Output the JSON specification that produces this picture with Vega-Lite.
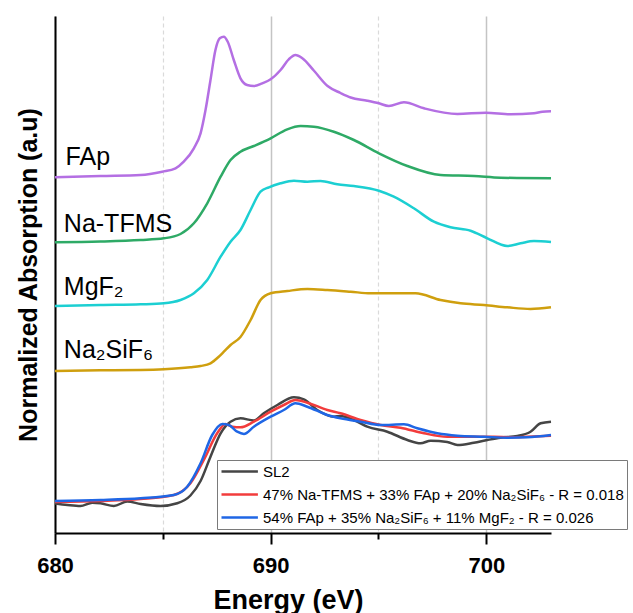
{
  "$schema": "https://vega.github.io/schema/vega-lite/v6.json",
  "width": 496,
  "height": 517,
  "autosize": {"type": "none"},
  "padding": {"left": 55, "top": 16, "right": 82, "bottom": 80},
  "background": "white",
  "config": {
    "font": "Liberation Sans",
    "view": {"stroke": null}
  },
  "datasets": {
    "curves": [
      {"s": "FAp", "E": 680.00, "A": 3.557},
      {"s": "FAp", "E": 682.11, "A": 3.570},
      {"s": "FAp", "E": 683.97, "A": 3.580},
      {"s": "FAp", "E": 684.97, "A": 3.613},
      {"s": "FAp", "E": 685.59, "A": 3.647},
      {"s": "FAp", "E": 685.97, "A": 3.713},
      {"s": "FAp", "E": 686.44, "A": 3.847},
      {"s": "FAp", "E": 686.75, "A": 3.997},
      {"s": "FAp", "E": 686.98, "A": 4.230},
      {"s": "FAp", "E": 687.21, "A": 4.530},
      {"s": "FAp", "E": 687.44, "A": 4.830},
      {"s": "FAp", "E": 687.64, "A": 4.947},
      {"s": "FAp", "E": 687.83, "A": 4.963},
      {"s": "FAp", "E": 688.01, "A": 4.913},
      {"s": "FAp", "E": 688.29, "A": 4.730},
      {"s": "FAp", "E": 688.60, "A": 4.547},
      {"s": "FAp", "E": 688.91, "A": 4.480},
      {"s": "FAp", "E": 689.22, "A": 4.470},
      {"s": "FAp", "E": 689.61, "A": 4.497},
      {"s": "FAp", "E": 690.00, "A": 4.537},
      {"s": "FAp", "E": 690.46, "A": 4.630},
      {"s": "FAp", "E": 690.84, "A": 4.737},
      {"s": "FAp", "E": 691.15, "A": 4.780},
      {"s": "FAp", "E": 691.47, "A": 4.747},
      {"s": "FAp", "E": 692.00, "A": 4.625},
      {"s": "FAp", "E": 692.64, "A": 4.470},
      {"s": "FAp", "E": 693.24, "A": 4.400},
      {"s": "FAp", "E": 693.71, "A": 4.355},
      {"s": "FAp", "E": 694.48, "A": 4.323},
      {"s": "FAp", "E": 695.02, "A": 4.297},
      {"s": "FAp", "E": 695.48, "A": 4.270},
      {"s": "FAp", "E": 696.18, "A": 4.307},
      {"s": "FAp", "E": 697.11, "A": 4.247},
      {"s": "FAp", "E": 698.66, "A": 4.190},
      {"s": "FAp", "E": 699.97, "A": 4.203},
      {"s": "FAp", "E": 701.13, "A": 4.187},
      {"s": "FAp", "E": 702.21, "A": 4.197},
      {"s": "FAp", "E": 702.60, "A": 4.213},
      {"s": "FAp", "E": 703.00, "A": 4.217},

      {"s": "Na-TFMS", "E": 680.00, "A": 2.907},
      {"s": "Na-TFMS", "E": 682.11, "A": 2.915},
      {"s": "Na-TFMS", "E": 683.97, "A": 2.930},
      {"s": "Na-TFMS", "E": 685.05, "A": 2.947},
      {"s": "Na-TFMS", "E": 685.82, "A": 2.990},
      {"s": "Na-TFMS", "E": 686.44, "A": 3.097},
      {"s": "Na-TFMS", "E": 687.06, "A": 3.297},
      {"s": "Na-TFMS", "E": 687.68, "A": 3.563},
      {"s": "Na-TFMS", "E": 688.14, "A": 3.730},
      {"s": "Na-TFMS", "E": 688.60, "A": 3.813},
      {"s": "Na-TFMS", "E": 689.22, "A": 3.870},
      {"s": "Na-TFMS", "E": 690.00, "A": 3.947},
      {"s": "Na-TFMS", "E": 690.77, "A": 4.037},
      {"s": "Na-TFMS", "E": 691.39, "A": 4.070},
      {"s": "Na-TFMS", "E": 692.00, "A": 4.063},
      {"s": "Na-TFMS", "E": 692.93, "A": 4.013},
      {"s": "Na-TFMS", "E": 693.86, "A": 3.930},
      {"s": "Na-TFMS", "E": 695.02, "A": 3.797},
      {"s": "Na-TFMS", "E": 696.34, "A": 3.670},
      {"s": "Na-TFMS", "E": 697.88, "A": 3.580},
      {"s": "Na-TFMS", "E": 699.43, "A": 3.570},
      {"s": "Na-TFMS", "E": 700.66, "A": 3.553},
      {"s": "Na-TFMS", "E": 703.00, "A": 3.547},

      {"s": "MgF\u2082", "E": 680.00, "A": 2.270},
      {"s": "MgF\u2082", "E": 682.11, "A": 2.280},
      {"s": "MgF\u2082", "E": 683.97, "A": 2.287},
      {"s": "MgF\u2082", "E": 685.05, "A": 2.297},
      {"s": "MgF\u2082", "E": 685.82, "A": 2.330},
      {"s": "MgF\u2082", "E": 686.44, "A": 2.397},
      {"s": "MgF\u2082", "E": 687.06, "A": 2.530},
      {"s": "MgF\u2082", "E": 687.68, "A": 2.763},
      {"s": "MgF\u2082", "E": 688.14, "A": 2.913},
      {"s": "MgF\u2082", "E": 688.60, "A": 3.030},
      {"s": "MgF\u2082", "E": 689.07, "A": 3.230},
      {"s": "MgF\u2082", "E": 689.53, "A": 3.413},
      {"s": "MgF\u2082", "E": 689.92, "A": 3.457},
      {"s": "MgF\u2082", "E": 690.46, "A": 3.497},
      {"s": "MgF\u2082", "E": 691.08, "A": 3.523},
      {"s": "MgF\u2082", "E": 691.70, "A": 3.513},
      {"s": "MgF\u2082", "E": 692.31, "A": 3.520},
      {"s": "MgF\u2082", "E": 693.09, "A": 3.487},
      {"s": "MgF\u2082", "E": 693.86, "A": 3.470},
      {"s": "MgF\u2082", "E": 695.02, "A": 3.423},
      {"s": "MgF\u2082", "E": 695.71, "A": 3.363},
      {"s": "MgF\u2082", "E": 696.64, "A": 3.247},
      {"s": "MgF\u2082", "E": 697.57, "A": 3.113},
      {"s": "MgF\u2082", "E": 698.34, "A": 3.057},
      {"s": "MgF\u2082", "E": 699.27, "A": 3.023},
      {"s": "MgF\u2082", "E": 700.05, "A": 2.947},
      {"s": "MgF\u2082", "E": 700.97, "A": 2.870},
      {"s": "MgF\u2082", "E": 701.59, "A": 2.897},
      {"s": "MgF\u2082", "E": 702.21, "A": 2.920},
      {"s": "MgF\u2082", "E": 703.00, "A": 2.910},

      {"s": "Na\u2082SiF\u2086", "E": 680.00, "A": 1.620},
      {"s": "Na\u2082SiF\u2086", "E": 682.11, "A": 1.627},
      {"s": "Na\u2082SiF\u2086", "E": 683.97, "A": 1.630},
      {"s": "Na\u2082SiF\u2086", "E": 685.05, "A": 1.637},
      {"s": "Na\u2082SiF\u2086", "E": 686.28, "A": 1.657},
      {"s": "Na\u2082SiF\u2086", "E": 686.75, "A": 1.670},
      {"s": "Na\u2082SiF\u2086", "E": 687.21, "A": 1.697},
      {"s": "Na\u2082SiF\u2086", "E": 687.58, "A": 1.760},
      {"s": "Na\u2082SiF\u2086", "E": 687.83, "A": 1.813},
      {"s": "Na\u2082SiF\u2086", "E": 688.14, "A": 1.880},
      {"s": "Na\u2082SiF\u2086", "E": 688.60, "A": 1.960},
      {"s": "Na\u2082SiF\u2086", "E": 689.07, "A": 2.130},
      {"s": "Na\u2082SiF\u2086", "E": 689.53, "A": 2.330},
      {"s": "Na\u2082SiF\u2086", "E": 690.00, "A": 2.397},
      {"s": "Na\u2082SiF\u2086", "E": 690.77, "A": 2.420},
      {"s": "Na\u2082SiF\u2086", "E": 691.70, "A": 2.440},
      {"s": "Na\u2082SiF\u2086", "E": 692.63, "A": 2.430},
      {"s": "Na\u2082SiF\u2086", "E": 693.71, "A": 2.413},
      {"s": "Na\u2082SiF\u2086", "E": 694.63, "A": 2.397},
      {"s": "Na\u2082SiF\u2086", "E": 696.72, "A": 2.397},
      {"s": "Na\u2082SiF\u2086", "E": 697.88, "A": 2.330},
      {"s": "Na\u2082SiF\u2086", "E": 698.81, "A": 2.297},
      {"s": "Na\u2082SiF\u2086", "E": 699.89, "A": 2.280},
      {"s": "Na\u2082SiF\u2086", "E": 700.97, "A": 2.257},
      {"s": "Na\u2082SiF\u2086", "E": 702.05, "A": 2.240},
      {"s": "Na\u2082SiF\u2086", "E": 703.00, "A": 2.257},

      {"s": "SL2", "E": 680.00, "A": 0.295},
      {"s": "SL2", "E": 680.58, "A": 0.280},
      {"s": "SL2", "E": 681.18, "A": 0.270},
      {"s": "SL2", "E": 681.73, "A": 0.303},
      {"s": "SL2", "E": 682.11, "A": 0.297},
      {"s": "SL2", "E": 682.73, "A": 0.270},
      {"s": "SL2", "E": 683.35, "A": 0.315},
      {"s": "SL2", "E": 683.97, "A": 0.290},
      {"s": "SL2", "E": 684.89, "A": 0.270},
      {"s": "SL2", "E": 685.67, "A": 0.297},
      {"s": "SL2", "E": 686.28, "A": 0.375},
      {"s": "SL2", "E": 686.75, "A": 0.520},
      {"s": "SL2", "E": 687.21, "A": 0.763},
      {"s": "SL2", "E": 687.68, "A": 0.997},
      {"s": "SL2", "E": 688.14, "A": 1.113},
      {"s": "SL2", "E": 688.60, "A": 1.147},
      {"s": "SL2", "E": 689.22, "A": 1.125},
      {"s": "SL2", "E": 689.68, "A": 1.197},
      {"s": "SL2", "E": 690.31, "A": 1.280},
      {"s": "SL2", "E": 691.08, "A": 1.357},
      {"s": "SL2", "E": 691.54, "A": 1.337},
      {"s": "SL2", "E": 692.16, "A": 1.230},
      {"s": "SL2", "E": 692.93, "A": 1.163},
      {"s": "SL2", "E": 693.24, "A": 1.170},
      {"s": "SL2", "E": 693.86, "A": 1.130},
      {"s": "SL2", "E": 694.48, "A": 1.063},
      {"s": "SL2", "E": 695.41, "A": 1.013},
      {"s": "SL2", "E": 696.34, "A": 0.930},
      {"s": "SL2", "E": 696.95, "A": 0.897},
      {"s": "SL2", "E": 697.42, "A": 0.923},
      {"s": "SL2", "E": 698.19, "A": 0.910},
      {"s": "SL2", "E": 698.66, "A": 0.880},
      {"s": "SL2", "E": 699.42, "A": 0.903},
      {"s": "SL2", "E": 700.05, "A": 0.930},
      {"s": "SL2", "E": 700.66, "A": 0.953},
      {"s": "SL2", "E": 701.44, "A": 0.970},
      {"s": "SL2", "E": 702.05, "A": 1.013},
      {"s": "SL2", "E": 702.52, "A": 1.097},
      {"s": "SL2", "E": 703.00, "A": 1.113},

      {"s": "47% Na-TFMS + 33% FAp + 20% Na\u2082SiF\u2086 - R = 0.018", "E": 680.00, "A": 0.310},
      {"s": "47% Na-TFMS + 33% FAp + 20% Na\u2082SiF\u2086 - R = 0.018", "E": 682.11, "A": 0.320},
      {"s": "47% Na-TFMS + 33% FAp + 20% Na\u2082SiF\u2086 - R = 0.018", "E": 683.97, "A": 0.340},
      {"s": "47% Na-TFMS + 33% FAp + 20% Na\u2082SiF\u2086 - R = 0.018", "E": 685.51, "A": 0.380},
      {"s": "47% Na-TFMS + 33% FAp + 20% Na\u2082SiF\u2086 - R = 0.018", "E": 686.28, "A": 0.497},
      {"s": "47% Na-TFMS + 33% FAp + 20% Na\u2082SiF\u2086 - R = 0.018", "E": 686.90, "A": 0.730},
      {"s": "47% Na-TFMS + 33% FAp + 20% Na\u2082SiF\u2086 - R = 0.018", "E": 687.52, "A": 0.997},
      {"s": "47% Na-TFMS + 33% FAp + 20% Na\u2082SiF\u2086 - R = 0.018", "E": 687.91, "A": 1.090},
      {"s": "47% Na-TFMS + 33% FAp + 20% Na\u2082SiF\u2086 - R = 0.018", "E": 688.22, "A": 1.063},
      {"s": "47% Na-TFMS + 33% FAp + 20% Na\u2082SiF\u2086 - R = 0.018", "E": 688.60, "A": 1.057},
      {"s": "47% Na-TFMS + 33% FAp + 20% Na\u2082SiF\u2086 - R = 0.018", "E": 689.22, "A": 1.113},
      {"s": "47% Na-TFMS + 33% FAp + 20% Na\u2082SiF\u2086 - R = 0.018", "E": 690.00, "A": 1.213},
      {"s": "47% Na-TFMS + 33% FAp + 20% Na\u2082SiF\u2086 - R = 0.018", "E": 690.61, "A": 1.280},
      {"s": "47% Na-TFMS + 33% FAp + 20% Na\u2082SiF\u2086 - R = 0.018", "E": 691.15, "A": 1.330},
      {"s": "47% Na-TFMS + 33% FAp + 20% Na\u2082SiF\u2086 - R = 0.018", "E": 691.70, "A": 1.303},
      {"s": "47% Na-TFMS + 33% FAp + 20% Na\u2082SiF\u2086 - R = 0.018", "E": 692.63, "A": 1.230},
      {"s": "47% Na-TFMS + 33% FAp + 20% Na\u2082SiF\u2086 - R = 0.018", "E": 693.24, "A": 1.197},
      {"s": "47% Na-TFMS + 33% FAp + 20% Na\u2082SiF\u2086 - R = 0.018", "E": 694.17, "A": 1.130},
      {"s": "47% Na-TFMS + 33% FAp + 20% Na\u2082SiF\u2086 - R = 0.018", "E": 695.10, "A": 1.080},
      {"s": "47% Na-TFMS + 33% FAp + 20% Na\u2082SiF\u2086 - R = 0.018", "E": 696.02, "A": 1.053},
      {"s": "47% Na-TFMS + 33% FAp + 20% Na\u2082SiF\u2086 - R = 0.018", "E": 697.11, "A": 0.997},
      {"s": "47% Na-TFMS + 33% FAp + 20% Na\u2082SiF\u2086 - R = 0.018", "E": 698.19, "A": 0.963},
      {"s": "47% Na-TFMS + 33% FAp + 20% Na\u2082SiF\u2086 - R = 0.018", "E": 699.42, "A": 0.963},
      {"s": "47% Na-TFMS + 33% FAp + 20% Na\u2082SiF\u2086 - R = 0.018", "E": 700.35, "A": 0.963},
      {"s": "47% Na-TFMS + 33% FAp + 20% Na\u2082SiF\u2086 - R = 0.018", "E": 701.13, "A": 0.957},
      {"s": "47% Na-TFMS + 33% FAp + 20% Na\u2082SiF\u2086 - R = 0.018", "E": 701.90, "A": 0.963},
      {"s": "47% Na-TFMS + 33% FAp + 20% Na\u2082SiF\u2086 - R = 0.018", "E": 703.00, "A": 0.973},

      {"s": "54% FAp + 35% Na\u2082SiF\u2086 + 11% MgF\u2082 - R = 0.026", "E": 680.00, "A": 0.320},
      {"s": "54% FAp + 35% Na\u2082SiF\u2086 + 11% MgF\u2082 - R = 0.026", "E": 682.11, "A": 0.330},
      {"s": "54% FAp + 35% Na\u2082SiF\u2086 + 11% MgF\u2082 - R = 0.026", "E": 683.97, "A": 0.347},
      {"s": "54% FAp + 35% Na\u2082SiF\u2086 + 11% MgF\u2082 - R = 0.026", "E": 685.51, "A": 0.380},
      {"s": "54% FAp + 35% Na\u2082SiF\u2086 + 11% MgF\u2082 - R = 0.026", "E": 686.13, "A": 0.463},
      {"s": "54% FAp + 35% Na\u2082SiF\u2086 + 11% MgF\u2082 - R = 0.026", "E": 686.75, "A": 0.697},
      {"s": "54% FAp + 35% Na\u2082SiF\u2086 + 11% MgF\u2082 - R = 0.026", "E": 687.29, "A": 0.980},
      {"s": "54% FAp + 35% Na\u2082SiF\u2086 + 11% MgF\u2082 - R = 0.026", "E": 687.76, "A": 1.090},
      {"s": "54% FAp + 35% Na\u2082SiF\u2086 + 11% MgF\u2082 - R = 0.026", "E": 688.06, "A": 1.080},
      {"s": "54% FAp + 35% Na\u2082SiF\u2086 + 11% MgF\u2082 - R = 0.026", "E": 688.45, "A": 1.013},
      {"s": "54% FAp + 35% Na\u2082SiF\u2086 + 11% MgF\u2082 - R = 0.026", "E": 688.76, "A": 0.990},
      {"s": "54% FAp + 35% Na\u2082SiF\u2086 + 11% MgF\u2082 - R = 0.026", "E": 689.22, "A": 1.063},
      {"s": "54% FAp + 35% Na\u2082SiF\u2086 + 11% MgF\u2082 - R = 0.026", "E": 690.00, "A": 1.163},
      {"s": "54% FAp + 35% Na\u2082SiF\u2086 + 11% MgF\u2082 - R = 0.026", "E": 690.61, "A": 1.230},
      {"s": "54% FAp + 35% Na\u2082SiF\u2086 + 11% MgF\u2082 - R = 0.026", "E": 691.15, "A": 1.297},
      {"s": "54% FAp + 35% Na\u2082SiF\u2086 + 11% MgF\u2082 - R = 0.026", "E": 691.70, "A": 1.263},
      {"s": "54% FAp + 35% Na\u2082SiF\u2086 + 11% MgF\u2082 - R = 0.026", "E": 692.63, "A": 1.180},
      {"s": "54% FAp + 35% Na\u2082SiF\u2086 + 11% MgF\u2082 - R = 0.026", "E": 693.24, "A": 1.147},
      {"s": "54% FAp + 35% Na\u2082SiF\u2086 + 11% MgF\u2082 - R = 0.026", "E": 694.17, "A": 1.113},
      {"s": "54% FAp + 35% Na\u2082SiF\u2086 + 11% MgF\u2082 - R = 0.026", "E": 695.10, "A": 1.080},
      {"s": "54% FAp + 35% Na\u2082SiF\u2086 + 11% MgF\u2082 - R = 0.026", "E": 696.18, "A": 1.087},
      {"s": "54% FAp + 35% Na\u2082SiF\u2086 + 11% MgF\u2082 - R = 0.026", "E": 696.80, "A": 1.047},
      {"s": "54% FAp + 35% Na\u2082SiF\u2086 + 11% MgF\u2082 - R = 0.026", "E": 697.73, "A": 0.997},
      {"s": "54% FAp + 35% Na\u2082SiF\u2086 + 11% MgF\u2082 - R = 0.026", "E": 698.66, "A": 0.973},
      {"s": "54% FAp + 35% Na\u2082SiF\u2086 + 11% MgF\u2082 - R = 0.026", "E": 699.89, "A": 0.963},
      {"s": "54% FAp + 35% Na\u2082SiF\u2086 + 11% MgF\u2082 - R = 0.026", "E": 700.97, "A": 0.953},
      {"s": "54% FAp + 35% Na\u2082SiF\u2086 + 11% MgF\u2082 - R = 0.026", "E": 701.90, "A": 0.957},
      {"s": "54% FAp + 35% Na\u2082SiF\u2086 + 11% MgF\u2082 - R = 0.026", "E": 703.00, "A": 0.980}
    ],
    "labels": [
      {"label": "FAp", "E": 680.49, "A": 3.68},
      {"label": "Na-TFMS", "E": 680.41, "A": 3.013},
      {"label": "MgF\u2082", "E": 680.41, "A": 2.38},
      {"label": "Na\u2082SiF\u2086", "E": 680.41, "A": 1.747}
    ]
  },
  "resolve": {"axis": {"x": "independent"}},
  "layer": [
    {
      "data": {"name": "curves"},
      "mark": {"type": "line", "strokeWidth": 2.5, "interpolate": "monotone"},
      "encoding": {
        "x": {
          "field": "E", "type": "quantitative",
          "scale": {"domain": [680, 703], "nice": false, "zero": false},
          "axis": {
            "orient": "bottom", "zindex": 1,
            "title": "Energy (eV)",
            "titleFontSize": 27, "titleFontWeight": "bold", "titleColor": "black",
            "titleX": 233, "titlePadding": 11,
            "values": [680, 690, 700],
            "labelFontSize": 22, "labelFontWeight": "bold", "labelColor": "black",
            "labelFlush": false, "labelOverlap": false, "labelPadding": 11,
            "ticks": true, "tickSize": 11, "tickWidth": 2, "tickColor": "black",
            "domain": true, "domainColor": "black", "domainWidth": 2,
            "grid": false
          }
        },
        "y": {
          "field": "A", "type": "quantitative",
          "scale": {"domain": [0, 5.17], "nice": false, "zero": false},
          "axis": {
            "title": "Normalized Absorption (a.u)",
            "titleFontSize": 25, "titleFontWeight": "bold", "titleColor": "black",
            "titlePadding": 14,
            "labels": false, "ticks": false, "grid": false,
            "domainColor": "black", "domainWidth": 2
          }
        },
        "color": {
          "field": "s", "type": "nominal",
          "scale": {
            "domain": ["FAp", "Na-TFMS", "MgF\u2082", "Na\u2082SiF\u2086", "SL2",
                       "47% Na-TFMS + 33% FAp + 20% Na\u2082SiF\u2086 - R = 0.018",
                       "54% FAp + 35% Na\u2082SiF\u2086 + 11% MgF\u2082 - R = 0.026"],
            "range": ["#B46FE3", "#2EAA66", "#1CCFD2", "#CF9F0E", "#454545", "#F23C3C", "#1F66E5"]
          },
          "legend": {
            "values": ["SL2",
                       "47% Na-TFMS + 33% FAp + 20% Na\u2082SiF\u2086 - R = 0.018",
                       "54% FAp + 35% Na\u2082SiF\u2086 + 11% MgF\u2082 - R = 0.026"],
            "title": null,
            "orient": "none", "legendX": 162, "legendY": 444,
            "strokeColor": "#7a7a7a", "fillColor": "white", "padding": 3,
            "symbolType": "M-1,0H4.2", "symbolSize": 196, "symbolStrokeWidth": 2.5,
            "labelFontSize": 15, "labelColor": "black", "labelOffset": 26, "labelLimit": 0,
            "rowPadding": 6
          }
        }
      }
    },
    {
      "data": {"name": "labels"},
      "mark": {"type": "text", "align": "left", "baseline": "alphabetic", "fontSize": 25, "color": "black"},
      "encoding": {
        "x": {
          "field": "E", "type": "quantitative",
          "axis": {
            "orient": "bottom", "title": null, "zindex": 0,
            "values": [680, 685, 690, 695, 700], "labels": false, "domain": false,
            "ticks": true, "tickWidth": 2, "tickColor": "black",
            "tickSize": 6,
            "tickOpacity": {"condition": {"test": "datum.value % 10 === 0", "value": 0}, "value": 1},
            "grid": true,
            "gridColor": {"condition": {"test": "datum.value % 10 === 0", "value": "#c4c4c4"}, "value": "#dadada"},
            "gridDash": {"condition": {"test": "datum.value % 10 === 0", "value": []}, "value": [4, 3]},
            "gridWidth": {"condition": {"test": "datum.value % 10 === 0", "value": 1.5}, "value": 1.2}
          }
        },
        "y": {"field": "A", "type": "quantitative"},
        "text": {"field": "label"}
      }
    }
  ]
}
